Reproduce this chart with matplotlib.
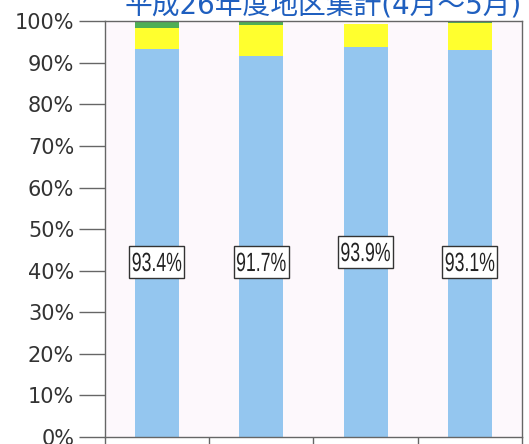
import numpy as np
import matplotlib.pyplot as plt
from matplotlib.textpath import TextPath
from matplotlib.font_manager import FontProperties
from matplotlib.patches import PathPatch, Rectangle
from matplotlib.transforms import Affine2D, IdentityTransform

plt.rcParams['font.family'] = ['DejaVu Sans', 'Noto Sans CJK JP']

title = '平成26年度地区集計(4月～5月)'
cats = ['A', 'B', 'C', 'D']
blue = [93.4, 91.7, 93.9, 93.1]
yellow = [5.0, 7.4, 5.4, 6.4]
green = [1.6, 0.9, 0.0, 0.5]
label_y = [42.1, 42.1, 44.5, 42.1]

fig = plt.figure(figsize=(5.29, 4.44), dpi=100)
ax = fig.add_axes([0.198, 0.016, 0.789, 0.936])
ax.set_facecolor('#fdf8fc')

x = np.arange(len(cats))
w = 0.42
ax.bar(x, blue, w, color='#94c6ef')
ax.bar(x, yellow, w, bottom=blue, color='#ffff2e')
ax.bar(x, green, w, bottom=np.array(blue) + np.array(yellow), color='#4fae55')

ax.set_xlim(-0.5, len(cats) - 0.5)
ax.set_ylim(0, 100)
ax.set_yticks(np.arange(0, 101, 10))
ax.set_yticklabels(['%d%%' % v for v in range(0, 101, 10)], fontsize=15, color='#333333')
ax.tick_params(axis='y', length=19, width=1, color='#666666', pad=3)
ax.set_xticks(np.arange(-0.5, len(cats), 1.0))
ax.set_xticklabels([])
ax.tick_params(axis='x', length=10, width=1, color='#666666', direction='out')
for s in ax.spines.values():
    s.set_color('#666666')
    s.set_linewidth(1)

# narrow boxed labels: condensed text drawn as a path
fp = FontProperties(family='Liberation Sans')
k = fig.dpi / 72.0
for i in range(len(cats)):
    cx, cy = ax.transData.transform((x[i], label_y[i]))
    tp = TextPath((0, 0), '%.1f%%' % blue[i], size=19, prop=fp)
    ext = tp.get_extents()
    tr = Affine2D().translate(-(ext.x0 + ext.x1) / 2, -(ext.y0 + ext.y1) / 2) \
        .scale(0.67 * k, k).translate(cx, cy)
    ax.add_artist(Rectangle((cx - 27.5, cy - 16), 55, 32, transform=IdentityTransform(),
                            fc='white', ec='#333333', lw=1, zorder=5))
    ax.add_artist(PathPatch(tr.transform_path(tp), transform=IdentityTransform(),
                            fc='#222222', ec='none', zorder=6))

fig.text(0.61, 0.968, title, ha='center', va='baseline', fontsize=20,
         color='#1f5fbf', family=['DejaVu Sans', 'Noto Sans CJK JP'])

fig.savefig('out.png', dpi=100)
